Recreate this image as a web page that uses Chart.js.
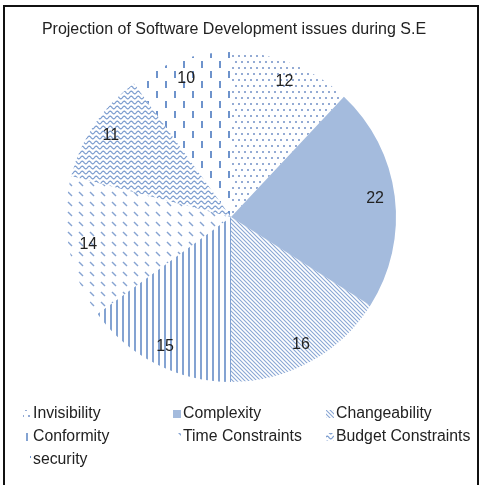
<!DOCTYPE html>
<html>
<head>
<meta charset="utf-8">
<script src="https://cdn.jsdelivr.net/npm/chart.js@4"></script>
<style>
  html, body { margin: 0; padding: 0; background: #fff; }
  #frame { position: absolute; left: 3px; top: 5px; width: 476px; height: 500px; border: 2px solid #111; box-sizing: border-box; }
  #c { position: absolute; left: 0; top: 0; }
</style>
</head>
<body>
<div id="frame"></div>
<canvas id="c" width="485" height="485"></canvas>
<script>
const categories = ['Invisibility', 'Complexity', 'Changeability', 'Conformity', 'Time Constraints', 'Budget Constraints', 'security'];
const issueCounts = [12, 22, 16, 15, 14, 11, 10];
const chartTitle = 'Projection of Software Development issues during S.E';

const canvas = document.getElementById('c');
const ctx = canvas.getContext('2d');
const FONT = '"Liberation Sans", Arial, sans-serif';

function makePattern(w, h, draw) {
    const tile = document.createElement('canvas');
    tile.width = w;
    tile.height = h;
    const t = tile.getContext('2d');
    draw(t);
    return ctx.createPattern(tile, 'repeat');
}

// one fill per slice, same order as categories
const fills = [
    // dots
    makePattern(6, 12, t => {
        t.fillStyle = '#94abd4';
        t.fillRect(1, 1, 2, 2);
        t.fillRect(4, 7, 2, 2);
    }),
    // solid
    '#a4bbdd',
    // fine diagonal lines
    makePattern(4, 4, t => {
        t.strokeStyle = '#8aa7d4';
        t.lineWidth = 1.1;
        t.beginPath();
        t.moveTo(-1, -1); t.lineTo(5, 5);
        t.moveTo(-1, 3); t.lineTo(1, 5);
        t.moveTo(3, -1); t.lineTo(5, 1);
        t.stroke();
    }),
    // vertical lines
    makePattern(6, 4, t => {
        t.fillStyle = '#84a3d2';
        t.fillRect(2, 0, 2, 4);
    }),
    // short diagonal dashes
    makePattern(11, 10, t => {
        t.strokeStyle = '#86a3d2';
        t.lineWidth = 1.5;
        t.beginPath();
        t.moveTo(2, 2); t.lineTo(6, 6);
        t.stroke();
    }),
    // waves
    makePattern(7, 5, t => {
        t.strokeStyle = '#7f9fd0';
        t.lineWidth = 1.2;
        t.beginPath();
        for (let x = -0.5; x <= 7.5; x += 0.5) {
            const y = 2.5 + Math.sin(x / 7 * Math.PI * 2) * 1.4;
            if (x === -0.5) t.moveTo(x, y); else t.lineTo(x, y);
        }
        t.stroke();
    }),
    // vertical dashes
    makePattern(18, 20, t => {
        t.fillStyle = '#6e93cc';
        t.fillRect(3, 1, 2, 7);
        t.fillRect(12, 11, 2, 7);
    })
];

// title drawn by hand: the built-in one gets squeezed to the chart area width
const titlePlugin = {
    id: 'wideTitle',
    afterDraw(chart) {
        const c = chart.ctx;
        c.save();
        c.font = '16px ' + FONT;
        c.fillStyle = '#222';
        c.textAlign = 'center';
        c.textBaseline = 'middle';
        c.fillText(chartTitle, 234, 30);
        c.restore();
    }
};

const sliceLabels = {
    id: 'sliceLabels',
    afterDatasetsDraw(chart) {
        const c = chart.ctx;
        const meta = chart.getDatasetMeta(0);
        c.save();
        c.font = '16px ' + FONT;
        c.fillStyle = '#222';
        c.textAlign = 'center';
        c.textBaseline = 'middle';
        meta.data.forEach((arc, i) => {
            const mid = (arc.startAngle + arc.endAngle) / 2;
            const r = arc.outerRadius * 0.88;
            c.fillText(String(chart.data.datasets[0].data[i]), arc.x + Math.cos(mid) * r, arc.y + Math.sin(mid) * r);
        });
        c.restore();
    }
};

// legend laid out in three columns like the original
const gridLegend = {
    id: 'gridLegend',
    afterDraw(chart) {
        const c = chart.ctx;
        const colX = [23, 173, 326];
        const rowY = [414, 437, 460];
        c.save();
        c.font = '15.8px ' + FONT;
        c.textBaseline = 'middle';
        chart.data.labels.forEach((label, i) => {
            const x = colX[i % 3];
            const y = rowY[Math.floor(i / 3)];
            c.fillStyle = chart.data.datasets[0].backgroundColor[i];
            c.fillRect(x, y - 4, 8, 8);
            c.fillStyle = '#222';
            c.fillText(label, x + 10, y);
        });
        c.restore();
    }
};

new Chart(canvas, {
    type: 'pie',
    data: {
        labels: categories,
        datasets: [{
            data: issueCounts,
            backgroundColor: fills,
            borderWidth: 0
        }]
    },
    options: {
        responsive: false,
        animation: false,
        layout: { padding: { top: 52, bottom: 103, left: 66, right: 89 } },
        plugins: {
            legend: { display: false },
            tooltip: { enabled: false },
            title: { display: false }
        }
    },
    plugins: [sliceLabels, gridLegend, titlePlugin]
});
</script>
</body>
</html>
